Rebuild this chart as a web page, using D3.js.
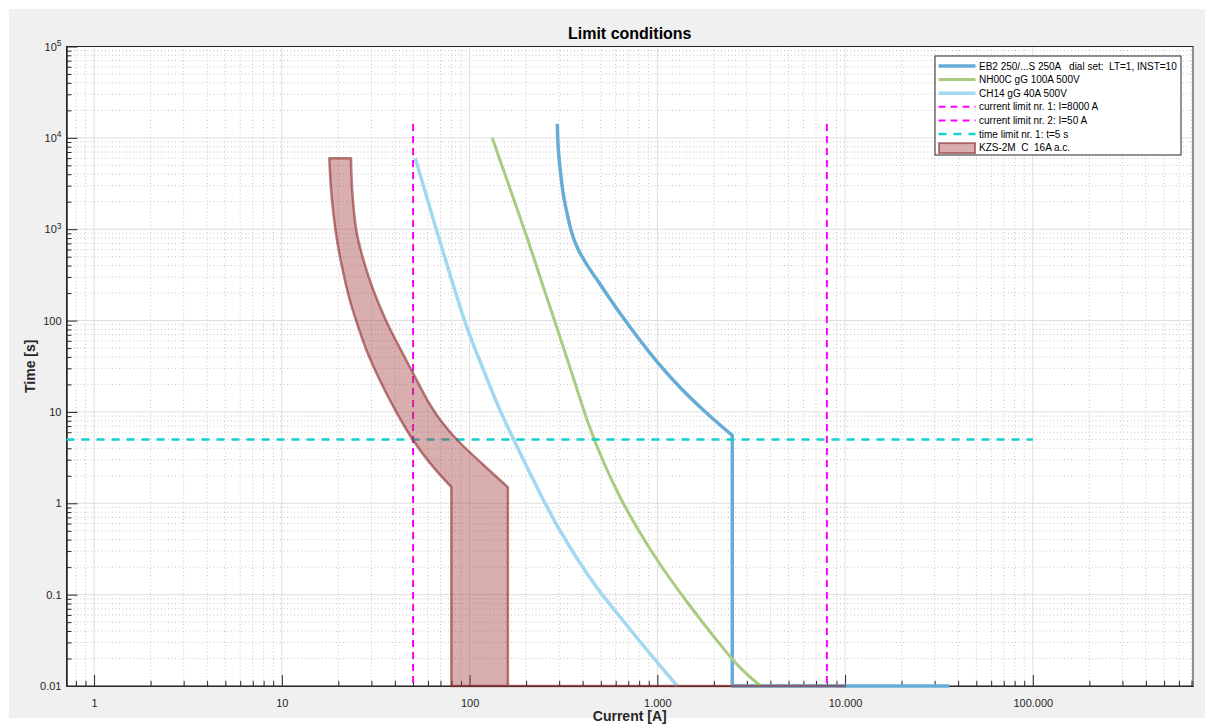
<!DOCTYPE html>
<html>
<head>
<meta charset="utf-8">
<script src="https://cdn.jsdelivr.net/npm/d3@7"></script>
<style>
    body { margin: 0; background: #ffffff; }
    text { font-family: 'Liberation Sans', Arial, Helvetica, sans-serif; }
</style>
</head>
<body>
<svg id="chart" width="1211" height="724"></svg>
<script>
// tick values
const currentTicks = [1, 10, 100, 1000, 10000, 100000]
const timeTicks = [0.01, 0.1, 1, 10, 100, 1000, 10000, 100000]

// EB2 250 breaker (LT=1, INST=10)
const eb2Current = [293, 297, 305, 316, 332, 353, 380, 419, 498, 637, 814, 1040, 1330, 1829, 2507, 2507, 36000]
const eb2Time = [14200, 7380, 4240, 2374, 1434, 866, 593, 417, 246, 118, 59.8, 31.9, 18.3, 9.74, 5.53, 0.01, 0.01]

// NH00C gG 100A fuse
const nh00cCurrent = [132, 163, 201, 244, 297, 360, 430, 517, 621, 775, 1040, 1467, 2068, 2743, 3549]
const nh00cTime = [10000, 2905, 845, 252, 75.1, 22.4, 7.39, 2.83, 1.265, 0.55, 0.211, 0.079, 0.0319, 0.0161, 0.01]

// CH14 gG 40A fuse
const ch14Current = [51.4, 64.1, 79, 97.3, 119.2, 144.2, 171.8, 205.8, 247.4, 297.4, 366.4, 474.2, 652.3, 897.6, 1277]
const ch14Time = [6000, 1280, 310, 81.8, 28.1, 10.8, 5.0, 2.32, 1.087, 0.537, 0.265, 0.1213, 0.0528, 0.0236, 0.01]

// KZS-2M C 16A band: lower (non tripping) and upper (tripping) boundaries
const kzsLowerCurrent = [17.9, 18.3, 19.3, 20.9, 23, 24.9, 28.2, 33.2, 41, 50, 62, 80]
const kzsLowerTime = [6000, 2690, 980, 390, 168, 99, 47.7, 22.4, 9.7, 4.9, 2.7, 1.5]
const kzsUpperCurrent = [23.35, 23.7, 24.9, 27.2, 30.7, 36, 41.7, 50, 59.6, 69.9, 86.1, 115.6, 160]
const kzsUpperTime = [6000, 2690, 980, 461, 216, 99, 54.1, 26.7, 13.5, 8.17, 4.93, 2.76, 1.5]
const kzsInstantLow = 80
const kzsInstantHigh = 160
const kzsBottomEnd = 10000
const kzsBottomTime = 0.01

// limits
const currentLimits = [8000, 50]
const currentLimitSpan = [0.01, 14200]
const timeLimit = 5
const timeLimitSpan = [0.713, 100000]

const legendLabels = [
    'EB2 250/...S 250A   dial set:  LT=1, INST=10',
    'NH00C gG 100A 500V',
    'CH14 gG 40A 500V',
    'current limit nr. 1: I=8000 A',
    'current limit nr. 2: I=50 A',
    'time limit nr. 1: t=5 s',
    'KZS-2M  C  16A a.c.'
]

const axisColor = '#262626'
const eb2Color = '#67acd6'
const nh00cColor = '#a9cc82'
const ch14Color = '#a3d8f1'
const limitColor = '#ff00ff'
const timeColor = '#14d0d0'
const kzsFill = '#a23e3e'
const kzsEdge = '#8c2a2a'

let svg = d3.select('#chart')

let plot = { left: 66.5, right: 1193, top: 46.5, bottom: 686 }

let x = d3.scaleLog().domain([0.713, 713000]).range([plot.left, plot.right])
let y = d3.scaleLog().domain([0.01, 100000]).range([plot.bottom, plot.top])

// figure background
svg.append('rect').attr('x', 0).attr('y', 0).attr('width', 1211).attr('height', 724).attr('fill', '#ffffff')
svg.append('rect').attr('x', 9).attr('y', 9).attr('width', 1196).attr('height', 709).attr('fill', '#f0f0f0')
svg.append('rect')
    .attr('x', plot.left).attr('y', plot.top)
    .attr('width', plot.right - plot.left).attr('height', plot.bottom - plot.top)
    .attr('fill', '#ffffff')

function minorValues (scale) {
    let dom = scale.domain()
    let out = []
    for (let e = -3; e <= 6; e++) {
        for (let k = 2; k <= 9; k++) {
            let v = k * Math.pow(10, e)
            if (v > dom[0] * 1.0001 && v < dom[1] * 0.9999) out.push(v)
        }
    }
    return out
}
let minorCurrent = minorValues(x)
let minorTime = minorValues(y)

// grid
let grid = svg.append('g').attr('id', 'grid')
grid.selectAll('line.minx').data(minorCurrent).enter().append('line')
    .attr('x1', d => x(d)).attr('x2', d => x(d))
    .attr('y1', plot.top).attr('y2', plot.bottom)
    .attr('stroke', '#c6c6c6').attr('stroke-width', 1).attr('stroke-dasharray', '1,2.5')
grid.selectAll('line.miny').data(minorTime).enter().append('line')
    .attr('y1', d => y(d)).attr('y2', d => y(d))
    .attr('x1', plot.left).attr('x2', plot.right)
    .attr('stroke', '#c6c6c6').attr('stroke-width', 1).attr('stroke-dasharray', '1,2.5')
grid.selectAll('line.majx').data(currentTicks).enter().append('line')
    .attr('x1', d => x(d)).attr('x2', d => x(d))
    .attr('y1', plot.top).attr('y2', plot.bottom)
    .attr('stroke', '#dedede').attr('stroke-width', 1)
grid.selectAll('line.majy').data(timeTicks).enter().append('line')
    .attr('y1', d => y(d)).attr('y2', d => y(d))
    .attr('x1', plot.left).attr('x2', plot.right)
    .attr('stroke', '#dedede').attr('stroke-width', 1)

// axes
let fmtCurrent = d => d >= 1000 ? d3.format(',')(d).replace(/,/g, '.') : String(d)

function styleAxis (g) {
    g.attr('font-family', "'Liberation Sans', Arial, sans-serif").attr('font-size', 11)
    g.select('.domain').attr('stroke', axisColor)
    g.selectAll('.tick line').attr('stroke', axisColor)
    g.selectAll('.tick text').attr('fill', axisColor)
}

svg.append('g').attr('transform', 'translate(0,' + plot.bottom + ')')
    .call(d3.axisBottom(x).tickValues(minorCurrent).tickSize(-5).tickSizeOuter(0).tickFormat(''))
    .call(styleAxis)
svg.append('g').attr('transform', 'translate(0,' + plot.bottom + ')')
    .call(d3.axisBottom(x).tickValues(currentTicks).tickSize(-11).tickSizeOuter(0).tickPadding(13).tickFormat(fmtCurrent))
    .call(styleAxis)
svg.append('g').attr('transform', 'translate(' + plot.left + ',0)')
    .call(d3.axisLeft(y).tickValues(minorTime).tickSize(-5).tickSizeOuter(0).tickFormat(''))
    .call(styleAxis)
let yAxis = svg.append('g').attr('transform', 'translate(' + plot.left + ',0)')
    .call(d3.axisLeft(y).tickValues(timeTicks).tickSize(-11).tickSizeOuter(0).tickPadding(5)
        .tickFormat(d => d >= 1000 ? '' : String(d)))
    .call(styleAxis)
yAxis.selectAll('.tick text').each(function (d) {
    if (d < 1000) return
    let t = d3.select(this)
    t.append('tspan').text('10')
    t.append('tspan').attr('dy', '-0.55em').attr('font-size', 8.5).text(Math.round(Math.log10(d)))
})

// box
svg.append('rect')
    .attr('x', plot.left).attr('y', plot.top)
    .attr('width', plot.right - plot.left).attr('height', plot.bottom - plot.top)
    .attr('fill', 'none').attr('stroke', axisColor).attr('stroke-width', 1)

// traces
let curve = d3.line().x(d => x(d[0])).y(d => y(d[1])).curve(d3.curveCatmullRom.alpha(0.5))
let straight = d3.line().x(d => x(d[0])).y(d => y(d[1]))
let pairs = (cur, tim) => cur.map((c, i) => [c, tim[i]])

let traces = svg.append('g').attr('id', 'traces')

// EB2: curved part up to the knee, then straight instantaneous part
let eb2 = pairs(eb2Current, eb2Time)
let knee = eb2Current.findIndex((c, i) => i > 0 && c === eb2Current[i - 1]) - 1
traces.append('path')
    .attr('d', curve(eb2.slice(0, knee + 1)) + straight(eb2.slice(knee)).replace('M', 'L'))
    .attr('fill', 'none').attr('stroke', eb2Color).attr('stroke-width', 3.5)
    .attr('stroke-linejoin', 'round')

traces.append('path')
    .attr('d', curve(pairs(nh00cCurrent, nh00cTime)))
    .attr('fill', 'none').attr('stroke', nh00cColor).attr('stroke-width', 3)

traces.append('path')
    .attr('d', curve(pairs(ch14Current, ch14Time)))
    .attr('fill', 'none').attr('stroke', ch14Color).attr('stroke-width', 3.5)

traces.selectAll('line.ilimit').data(currentLimits).enter().append('line')
    .attr('x1', d => x(d)).attr('x2', d => x(d))
    .attr('y1', y(currentLimitSpan[1])).attr('y2', y(currentLimitSpan[0]))
    .attr('stroke', limitColor).attr('stroke-width', 2).attr('stroke-dasharray', '7,5')

traces.append('line')
    .attr('x1', x(timeLimitSpan[0])).attr('x2', x(timeLimitSpan[1]))
    .attr('y1', y(timeLimit)).attr('y2', y(timeLimit))
    .attr('stroke', timeColor).attr('stroke-width', 2.5).attr('stroke-dasharray', '8,7')

// KZS band
let lower = pairs(kzsLowerCurrent, kzsLowerTime)
let upper = pairs(kzsUpperCurrent, kzsUpperTime)
let band = curve(lower) +
    'L' + x(kzsInstantLow) + ',' + y(kzsBottomTime) +
    'L' + x(kzsBottomEnd) + ',' + y(kzsBottomTime) +
    'L' + x(kzsInstantHigh) + ',' + y(kzsBottomTime) +
    curve(upper.slice().reverse()).replace('M', 'L') + 'Z'
traces.append('path')
    .attr('d', band)
    .attr('fill', kzsFill).attr('fill-opacity', 0.42)
    .attr('stroke', kzsEdge).attr('stroke-opacity', 0.6).attr('stroke-width', 2.5)
    .attr('stroke-linejoin', 'round')

// title and axis labels
svg.append('text').text('Limit conditions')
    .attr('x', (plot.left + plot.right) / 2).attr('y', 39)
    .attr('text-anchor', 'middle').attr('font-size', 16).attr('font-weight', 'bold').attr('fill', '#000')
svg.append('text').text('Current [A]')
    .attr('x', (plot.left + plot.right) / 2).attr('y', 721)
    .attr('text-anchor', 'middle').attr('font-size', 14).attr('font-weight', 'bold').attr('fill', axisColor)
svg.append('text').text('Time [s]')
    .attr('transform', 'translate(35,' + ((plot.top + plot.bottom) / 2) + ') rotate(-90)')
    .attr('text-anchor', 'middle').attr('font-size', 14).attr('font-weight', 'bold').attr('fill', axisColor)

// legend
let legendStyles = [
    { kind: 'line', color: eb2Color, width: 3.5, dash: null },
    { kind: 'line', color: nh00cColor, width: 3, dash: null },
    { kind: 'line', color: ch14Color, width: 3.5, dash: null },
    { kind: 'line', color: limitColor, width: 2, dash: '7,5' },
    { kind: 'line', color: limitColor, width: 2, dash: '7,5' },
    { kind: 'line', color: timeColor, width: 2.5, dash: '8,7' },
    { kind: 'patch' }
]
let legend = svg.append('g').attr('id', 'legend').attr('transform', 'translate(935,56)')
legend.append('rect')
    .attr('x', 0).attr('y', 0).attr('width', 246).attr('height', 99)
    .attr('fill', '#ffffff').attr('stroke', axisColor).attr('stroke-width', 1)
let item = legend.selectAll('g.item').data(legendLabels).enter().append('g')
    .attr('transform', (d, i) => 'translate(0,' + (10 + i * 13.6) + ')')
item.each(function (d, i) {
    let g = d3.select(this)
    let s = legendStyles[i]
    if (s.kind === 'line') {
        g.append('line').attr('x1', 3.5).attr('x2', 40.5).attr('y1', 0).attr('y2', 0)
            .attr('stroke', s.color).attr('stroke-width', s.width)
            .attr('stroke-dasharray', s.dash)
    } else {
        g.append('rect').attr('x', 4).attr('y', -4.5).attr('width', 36).attr('height', 10)
            .attr('fill', kzsFill).attr('fill-opacity', 0.42)
            .attr('stroke', kzsEdge).attr('stroke-opacity', 0.6).attr('stroke-width', 2)
    }
})
item.append('text').text(d => d)
    .attr('x', 44).attr('y', 3.6)
    .attr('font-size', 10).attr('fill', '#000')
    .style('white-space', 'pre')
</script>
</body>
</html>
